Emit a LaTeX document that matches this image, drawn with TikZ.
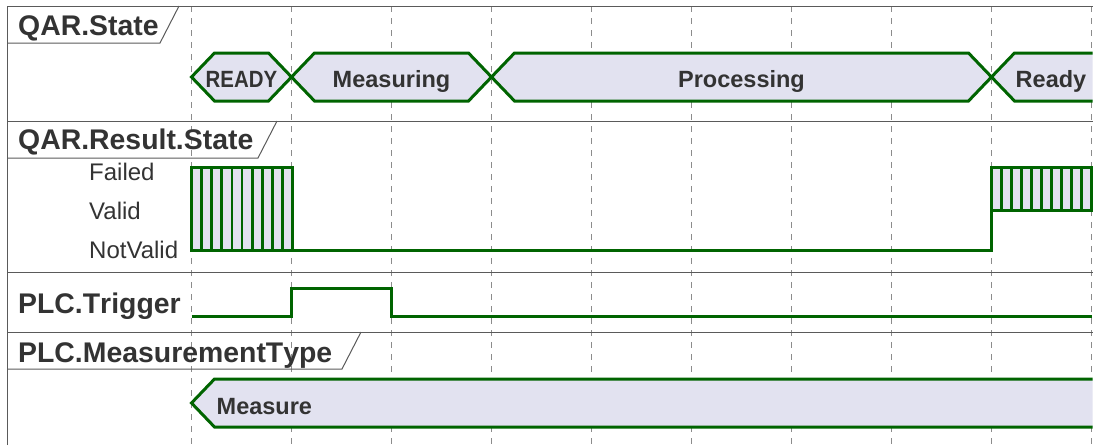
\documentclass[tikz,border=0pt]{standalone}
\usepackage{fontspec}
\setmainfont{Liberation Sans}
\newfontfamily\headfont[Kerning=Off]{Liberation Sans}
\definecolor{sig}{HTML}{006400}
\definecolor{band}{HTML}{E2E2F0}
\definecolor{ink}{HTML}{333333}
\definecolor{rulegray}{HTML}{5A5A5A}
\definecolor{gridgray}{HTML}{8C8C8C}

\begin{document}
\begin{tikzpicture}[x=1pt,y=-1pt,
  sigline/.style={draw=sig, line width=3pt, line join=miter},
  stateband/.style={sigline, fill=band},
  hatchline/.style={draw=sig, line width=2.8pt},
  rowrule/.style={draw=rulegray, line width=1pt},
  gridline/.style={draw=gridgray, line width=1pt, dash pattern=on 6pt off 6pt},
  head/.style={anchor=base west, text=ink, font=\headfont\fontsize{28.4}{30}\selectfont\bfseries, inner sep=0pt},
  statetxt/.style={anchor=base, text=ink, font=\fontsize{23.5}{26}\selectfont\bfseries, inner sep=0pt},
  leveltxt/.style={anchor=base west, text=ink, font=\fontsize{24}{26}\selectfont, inner sep=0pt}]

\useasboundingbox (0,0) rectangle (1093,445);

% time grid
\foreach \i in {0,...,9}
  \draw[gridline] (191.5+100*\i,6) -- (191.5+100*\i,445);

% frame and row separators
\draw[rowrule] (7,445) -- (7,6) -- (1093,6);
\draw[rowrule] (7,121) -- (1093,121);
\draw[rowrule] (7,272) -- (1093,272);
\draw[rowrule] (7,332) -- (1093,332);

% row title tabs
\draw[rowrule] (7,43) -- (160,43) -- (179,6);
\draw[rowrule] (7,158) -- (258,158) -- (277,121);
\draw[rowrule] (7,369) -- (342,369) -- (361,332);

\node[head] (hdrstate)   at (18,35)  {QAR.State};
\node[head] (hdrresult)  at (18,149) {QAR.Result.State};
\node[head] (hdrtrigger) at (18,313) {PLC.Trigger};
\node[head] (hdrtype)    at (18,362) {PLC.MeasurementType};

% QAR.State
\draw[stateband] (191.5,77) -- (214.5,53) -- (268.5,53) -- (291.5,77) -- (268.5,101) -- (214.5,101) -- cycle;
\draw[stateband] (291.5,77) -- (314.5,53) -- (468.5,53) -- (491.5,77) -- (468.5,101) -- (314.5,101) -- cycle;
\draw[stateband] (491.5,77) -- (514.5,53) -- (968.5,53) -- (991.5,77) -- (968.5,101) -- (514.5,101) -- cycle;
\fill[band] (991.5,77) -- (1014.5,53) -- (1092.5,53) -- (1092.5,101) -- (1014.5,101) -- cycle;
\draw[sigline] (1092.5,53) -- (1014.5,53) -- (991.5,77) -- (1014.5,101) -- (1092.5,101);

\node[statetxt, xscale=0.87] (stready) at (241.5,87.5) {READY};
\node[statetxt] (stmeas) at (391.5,87.5) {Measuring};
\node[statetxt] (stproc) at (741.5,87.5) {Processing};
\node[statetxt] (stready2) at (1051,87.5) {Ready};

% QAR.Result.State
\node[leveltxt] (lvfail)  at (89,180) {Failed};
\node[leveltxt] (lvvalid) at (89,219) {Valid};
\node[leveltxt] (lvnot)   at (89,258) {NotValid};

\fill[band] (191.5,167) rectangle (292.5,250);
\foreach \k in {1,...,9}
  \draw[hatchline] (191.5+10.1*\k,167) -- (191.5+10.1*\k,250);
\draw[sigline] (191.5,167) rectangle (292.5,250);
\draw[sigline] (292.5,250) -- (991.5,250) -- (991.5,210);

\fill[band] (991.5,167) rectangle (1092.5,210);
\foreach \k in {1,...,10}
  \draw[hatchline] (991.5+10*\k,167) -- (991.5+10*\k,210);
\draw[sigline] (1092.5,167) -- (991.5,167) -- (991.5,210) -- (1092.5,210);

% PLC.Trigger
\draw[sigline] (191.5,316) -- (291.5,316) -- (291.5,288) -- (391.5,288) -- (391.5,316) -- (1092,316);

% PLC.MeasurementType
\fill[band] (191.5,403) -- (214.5,379) -- (1092.5,379) -- (1092.5,427) -- (214.5,427) -- cycle;
\draw[sigline] (1092.5,379) -- (214.5,379) -- (191.5,403) -- (214.5,427) -- (1092.5,427);
\node[statetxt, anchor=base west] (mtype) at (216.5,414) {Measure};

\end{tikzpicture}
\end{document}
